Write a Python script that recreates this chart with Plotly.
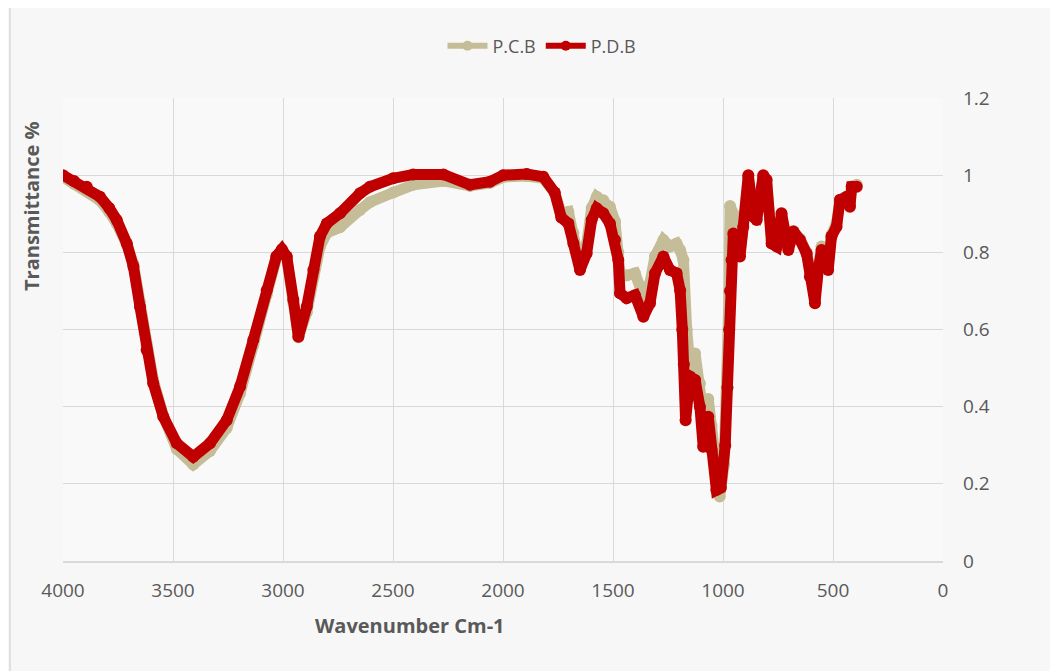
import plotly.graph_objects as go

# ---- data ----
pcb_wavenumber = [4000, 3950, 3892, 3832, 3790, 3756, 3710, 3680, 3650, 3620, 3590, 3544, 3483, 3408,
                  3332, 3256, 3195, 3135, 3074, 3030, 3005, 2983, 2953, 2930, 2892, 2862, 2832, 2801,
                  2741, 2650, 2605, 2499, 2408, 2271, 2150, 2059, 1999, 1892, 1817, 1765, 1735, 1703,
                  1680, 1650, 1620, 1597, 1574, 1544, 1514, 1491, 1476, 1468, 1438, 1400, 1362, 1332,
                  1309, 1271, 1241, 1211, 1195, 1180, 1165, 1150, 1127, 1105, 1090, 1067, 1052, 1030,
                  1015, 995, 980, 972, 968, 953, 938, 923, 908, 885, 862, 847, 817, 802, 779, 756,
                  734, 718, 703, 680, 650, 620, 605, 582, 567, 552, 522, 507, 484, 468, 438, 423,
                  415, 392]
pcb_transmittance = [0.995, 0.978, 0.962, 0.935, 0.905, 0.875, 0.82, 0.77, 0.67, 0.56, 0.47, 0.375, 0.29, 0.25,
                     0.285, 0.345, 0.435, 0.56, 0.69, 0.785, 0.805, 0.785, 0.67, 0.58, 0.645, 0.735, 0.815, 0.85,
                     0.865, 0.91, 0.93, 0.955, 0.975, 0.985, 0.972, 0.98, 0.995, 0.998, 0.992, 0.955, 0.90, 0.905,
                     0.85, 0.765, 0.82, 0.915, 0.944, 0.935, 0.918, 0.88, 0.80, 0.745, 0.74, 0.746, 0.685, 0.72,
                     0.79, 0.832, 0.815, 0.823, 0.806, 0.78, 0.60, 0.50, 0.538, 0.46, 0.38, 0.42, 0.35, 0.21,
                     0.167, 0.25, 0.45, 0.70, 0.92, 0.90, 0.86, 0.80, 0.87, 0.995, 0.895, 0.89, 0.995, 0.985, 0.83, 0.825,
                     0.895, 0.84, 0.815, 0.855, 0.835, 0.80, 0.745, 0.68, 0.76, 0.815, 0.765, 0.845, 0.875, 0.935, 0.945, 0.925,
                     0.97, 0.975]

pdb_wavenumber = [4000, 3950, 3892, 3832, 3790, 3756, 3710, 3680, 3650, 3620, 3590, 3544, 3483, 3408,
                  3332, 3256, 3195, 3135, 3074, 3030, 3005, 2983, 2953, 2930, 2892, 2862, 2832, 2801,
                  2741, 2650, 2605, 2499, 2408, 2271, 2150, 2059, 1999, 1892, 1817, 1765, 1735, 1703,
                  1680, 1650, 1620, 1597, 1574, 1544, 1514, 1491, 1476, 1468, 1438, 1400, 1362, 1332,
                  1309, 1271, 1241, 1211, 1195, 1185, 1178, 1170, 1150, 1127, 1105, 1090, 1067, 1052,
                  1030, 1010, 990, 980, 972, 968, 961, 953, 940, 923, 908, 885, 862, 847, 817, 802,
                  779, 756, 734, 718, 703, 680, 650, 620, 605, 582, 567, 552, 522, 507, 484, 468,
                  438, 423, 415, 392]
pdb_transmittance = [1.0, 0.985, 0.970, 0.944, 0.915, 0.884, 0.823, 0.763, 0.659, 0.547, 0.461, 0.374, 0.305, 0.270,
                     0.305, 0.365, 0.452, 0.573, 0.702, 0.790, 0.808, 0.789, 0.677, 0.581, 0.659, 0.754, 0.841, 0.875,
                     0.901, 0.953, 0.970, 0.992, 1.002, 1.002, 0.975, 0.983, 1.0, 1.003, 0.996, 0.955, 0.89, 0.875,
                     0.823, 0.754, 0.797, 0.884, 0.914, 0.901, 0.875, 0.832, 0.780, 0.694, 0.681, 0.689, 0.633, 0.668,
                     0.746, 0.789, 0.754, 0.746, 0.702, 0.60, 0.51, 0.365, 0.478, 0.469, 0.400, 0.296, 0.374, 0.288,
                     0.184, 0.19, 0.30, 0.45, 0.60, 0.70, 0.78, 0.849, 0.84, 0.789, 0.866, 1.0, 0.892, 0.884, 1.0, 0.988,
                     0.823, 0.815, 0.901, 0.832, 0.806, 0.854, 0.832, 0.797, 0.737, 0.668, 0.754, 0.806, 0.754, 0.841, 0.866, 0.936,
                     0.944, 0.918, 0.970, 0.970]

x_ticks = [4000, 3500, 3000, 2500, 2000, 1500, 1000, 500, 0]
y_ticks = [0, 0.2, 0.4, 0.6, 0.8, 1.0, 1.2]

TAN = "#C4BD97"
RED = "#C00000"
GREY_TXT = "#595959"
GRID = "#d9d9d9"
FONT = "Open Sans"

fig = go.Figure()
fig.add_trace(go.Scatter(
    x=pcb_wavenumber, y=pcb_transmittance, name="P.C.B", mode="lines+markers", showlegend=False,
    line=dict(color=TAN, width=11), marker=dict(color=TAN, size=12),
))
fig.add_trace(go.Scatter(
    x=pdb_wavenumber, y=pdb_transmittance, name="P.D.B", mode="lines+markers", showlegend=False,
    line=dict(color=RED, width=11), marker=dict(color=RED, size=12),
))
# legend entries (thinner line with a dot, as in the reference legend)
fig.add_trace(go.Scatter(x=[None], y=[None], name="P.C.B", mode="lines+markers",
                         line=dict(color=TAN, width=6), marker=dict(color=TAN, size=10)))
fig.add_trace(go.Scatter(x=[None], y=[None], name="P.D.B", mode="lines+markers",
                         line=dict(color=RED, width=6), marker=dict(color=RED, size=10)))

# page has an 8px body margin; figure placed so the plot area sits where the reference's does
OFF = 8
W, H = 1058 - OFF, 671 - OFF
L, T = 63 - OFF, 98 - OFF
PW, PH = 880, 463
R, B = W - L - PW, H - T - PH


def px_x(x):
    return (x - OFF - L) / PW


def px_y(y):
    return (T + PH - (y - OFF)) / PH


fig.update_layout(
    width=W, height=H,
    margin=dict(l=L, r=R, t=T, b=B, pad=0),
    paper_bgcolor="#f7f7f7",
    plot_bgcolor="#f9f9f9",
    font=dict(family=FONT, color=GREY_TXT, size=18),
    showlegend=True,
    legend=dict(orientation="h", x=px_x(542), xanchor="center", y=px_y(46), yanchor="middle",
                font=dict(size=18, color=GREY_TXT), bgcolor="rgba(0,0,0,0)", itemwidth=40),
    xaxis=dict(range=[4000, 0], tickvals=x_ticks, showgrid=True, gridcolor=GRID, gridwidth=1,
               zeroline=False, showline=True, linecolor=GRID, linewidth=2, ticks="",
               tickfont=dict(size=19, color=GREY_TXT), ticklabelstandoff=11),
    yaxis=dict(range=[0, 1.2], tickvals=y_ticks, side="right", showgrid=True, gridcolor=GRID,
               gridwidth=1, zeroline=False, showline=False, ticks="",
               tickfont=dict(size=19, color=GREY_TXT), ticklabelstandoff=19),
    annotations=[
        dict(text="<b>Transmittance %</b>", x=px_x(31), y=px_y(207), xref="paper", yref="paper",
             textangle=-90, showarrow=False, font=dict(size=20, color=GREY_TXT),
             xanchor="center", yanchor="middle"),
        dict(text="<b>Wavenumber Cm-1</b>", x=px_x(410), y=px_y(625), xref="paper", yref="paper",
             showarrow=False, font=dict(size=20, color=GREY_TXT), xanchor="center", yanchor="middle"),
    ],
    shapes=[
        dict(type="rect", xref="paper", yref="paper", x0=px_x(10), x1=px_x(1075), y0=px_y(690), y1=px_y(7),
             line=dict(color=GRID, width=1.5), fillcolor="rgba(0,0,0,0)", layer="below"),
    ],
)

fig.write_html("out.html")
